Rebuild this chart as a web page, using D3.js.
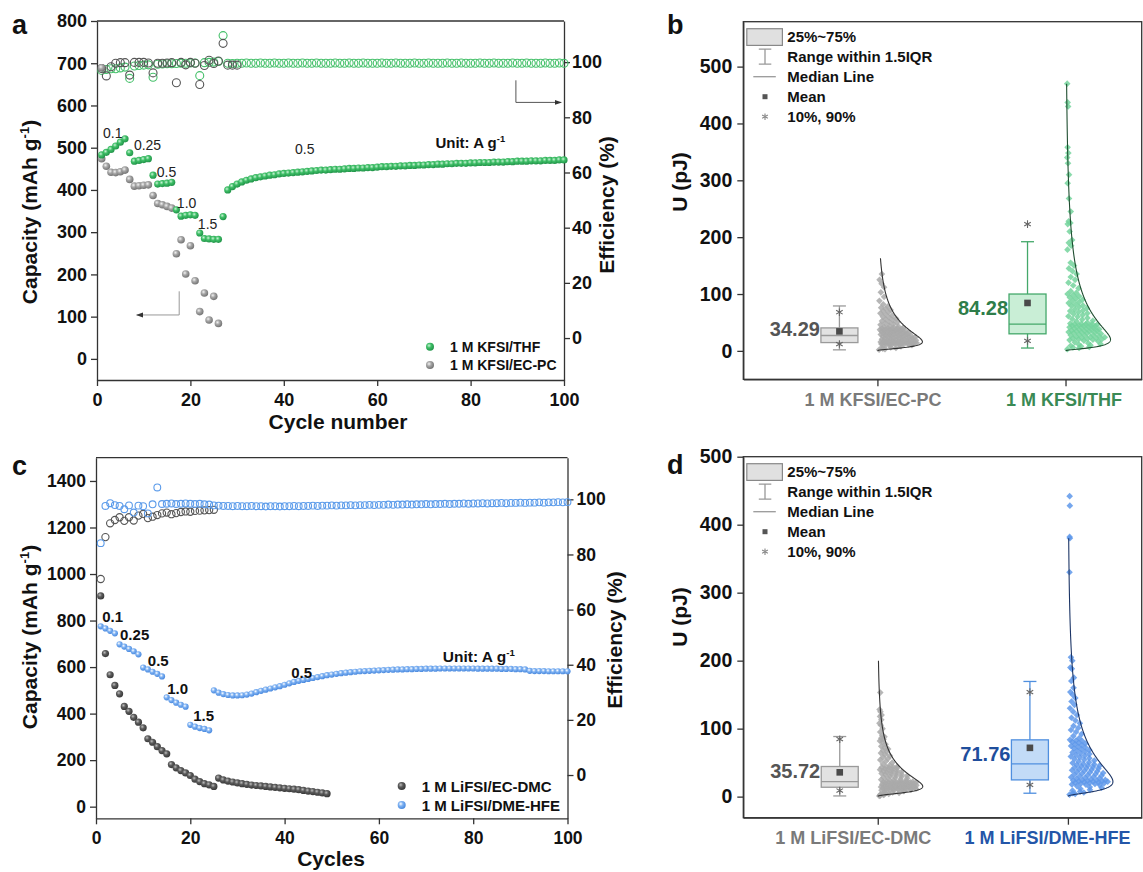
<!DOCTYPE html>
<html>
<head>
<meta charset="utf-8">
<script src="https://cdn.jsdelivr.net/npm/d3@7"></script>
<style>
  body { margin: 0; background: #fff; }
  svg text { font-family: "Liberation Sans", Arial, sans-serif; }
</style>
</head>
<body>
<svg id="fig" width="1143" height="872"></svg>
<script>
// ---------------- panel a : K cells ----------------
const cyclesA = d3.range(1, 101)
// 1 M KFSI/THF capacity, cycles 1-100
const thfCap = [483, 489, 496, 504, 513, 521, 488, 468, 470, 472, 474, 435, 414, 415, 416, 418,
  353, 338, 340, 341, 340, 298, 285, 284, 283, 283, 337,
  400, 408, 414, 419, 423, 426, 429, 431, 433, 435, 436, 438, 439, 440, 441, 442, 443, 444, 445, 446,
  447, 447, 448, 449, 449, 450, 451, 451, 452, 452, 453, 453, 454, 455, 455, 456, 456, 457, 457, 458,
  458, 459, 459, 460, 460, 461, 461, 462, 462, 463, 463, 463, 464, 464, 465, 465, 465, 466, 466, 466,
  467, 467, 468, 468, 468, 469, 469, 469, 470, 470, 470, 471, 471]
const thfEff = [97.0, 97.3, 97.6, 97.6, 97.9, 98.2, 94.1, 98.6, 98.8, 98.9, 99.0, 94.5, 99.2, 99.3, 99.4, 99.4,
  99.5, 99.6, 99.6, 99.7, 99.7, 95.1, 99.8, 99.9, 100.0, 100.2, 109.6,
  99.6, 99.5, 99.6, 99.6, 99.7, 99.6, 99.6, 99.7, 99.6, 99.6,
  99.7, 99.6, 99.6, 99.7, 99.6, 99.6, 99.7, 99.6, 99.6, 99.7,
  99.6, 99.6, 99.6, 99.7, 99.6, 99.6, 99.7, 99.6, 99.6, 99.7,
  99.6, 99.6, 99.6, 99.7, 99.6, 99.6, 99.7, 99.6, 99.6, 99.6,
  99.7, 99.6, 99.6, 99.7, 99.6, 99.6, 99.6, 99.7, 99.6, 99.6,
  99.7, 99.6, 99.6, 99.6, 99.7, 99.6, 99.6, 99.7, 99.6, 99.6,
  99.6, 99.7, 99.6, 99.6, 99.7, 99.6, 99.6, 99.6, 99.7, 99.6,
  99.6, 99.7, 99.6]
// 1 M KFSI/EC-PC, cycles 1-26 (capacity) and 1-30 (efficiency)
const ecpcCap = [474, 456, 442, 441, 443, 447, 425, 409, 410, 411, 412, 387, 368, 365, 361, 357,
  249, 282, 201, 268, 185, 112, 156, 92, 148, 84]
const ecpcFirstCap = 689
const ecpcEff = [97.7, 95.0, 98.3, 99.6, 99.8, 99.8, 95.3, 99.9, 99.9, 99.9, 99.7, 96.1, 99.6, 99.6, 99.7,
  99.8, 92.5, 99.9, 99.0, 99.9, 99.6, 91.9, 98.8, 100.7, 99.5, 100.4, 106.8, 98.9, 98.9, 98.9]

// ---------------- panel c : Li cells ----------------
const cyclesC = d3.range(1, 101)
// 1 M LiFSI/DME-HFE capacity, cycles 1-100
const hfeCap = [775, 766, 756, 745, 698, 688, 678, 668, 655, 598, 590, 580, 571, 560,
  470, 458, 447, 438, 430, 352, 344, 338, 334, 328,
  500, 490, 484, 480, 478, 478, 479, 482, 486, 492, 498, 503, 508, 513, 518, 524, 530, 536, 541, 545,
  549, 553, 557, 561, 565, 568, 571, 574, 576, 578, 580, 582, 583, 584, 585, 586, 587, 588, 589, 590,
  590, 591, 591, 592, 592, 593, 593, 593, 594, 594, 594, 594, 594, 594, 594, 594, 593, 593, 593, 593,
  593, 592, 592, 592, 591, 591, 590, 584, 583, 583, 583, 582, 582, 582, 582, 582]
const hfeEff = [84.1, 97.6, 98.6, 97.9, 97.6, 96.4, 97.8, 95.2, 97.7, 97.5, 94.9, 98.2, 104.3, 98.3,
  98.4, 98.5, 98.3, 98.4, 98.5, 98.4, 98.3, 98.4, 98.2, 98.1, 97.8, 97.7, 97.6, 97.6, 97.5, 97.6,
  97.5, 97.5, 97.6, 97.5, 97.5, 97.4, 97.5, 97.5, 97.4, 97.5, 97.5, 97.6, 97.5, 97.6, 97.6, 97.7,
  97.6, 97.7, 97.7, 97.8, 97.7, 97.8, 97.8, 97.9, 97.8, 97.9, 97.9, 98.0, 97.9, 98.0, 98.0, 98.1,
  98.0, 98.1, 98.1, 98.2, 98.1, 98.2, 98.2, 98.3, 98.2, 98.3, 98.3, 98.4, 98.3, 98.4, 98.4, 98.5,
  98.4, 98.5, 98.5, 98.6, 98.5, 98.6, 98.6, 98.7, 98.6, 98.7, 98.7, 98.8, 98.7, 98.8, 98.8, 98.9,
  98.8, 98.9, 98.9, 99.0, 98.9, 99.0]
// 1 M LiFSI/EC-DMC, capacity cycles 1-49, efficiency cycles 1-25
const dmcCap = [906, 658, 567, 521, 485, 431, 410, 384, 363, 339, 292, 277, 258, 241, 227,
  181, 167, 155, 145, 134, 118, 108, 99, 94, 87,
  123, 115, 110, 106, 102, 99, 96, 93, 91, 89, 87, 85, 83, 81, 79, 77, 75, 73, 70, 67, 65, 62, 59, 56]
const dmcEff = [71.1, 86.3, 91.3, 92.5, 93.5, 92.2, 93.5, 92.3, 94.1, 94.7, 93.2, 93.7, 94.3, 94.9,
  95.2, 94.6, 95.0, 95.4, 95.6, 95.5, 95.8, 95.9, 96.0, 96.1, 96.2]

// ---------------- panels b, d : U (pJ) distributions ----------------
const categoriesB = ['1 M KFSI/EC-PC', '1 M KFSI/THF']
const categoriesD = ['1 M LiFSI/EC-DMC', '1 M LiFSI/DME-HFE']
// box stats: [low whisker, q1, median, q3, high whisker, mean, p10, p90]
const ecpcBox = [1.8, 14.6, 27, 40.4, 79, 34.29, 12, 68]
const thfBox = [5, 30, 47, 100, 192, 84.28, 17.6, 223]
const dmcBox = [1, 13.8, 22, 44.3, 88.4, 35.72, 9, 84.5]
const hfeBox = [5, 24.6, 48.2, 83.5, 169.4, 71.76, 17.2, 153.8]
// distribution curves: mode, log-sigma, top value
const curveB = [[16, 1.0, 163], [20, 1.16, 470]]
const curveD = [[15, 0.9, 200], [22, 1.0, 380]]

const ecpcU = [2, 3, 4, 5, 6, 7, 8, 9, 10, 10.5, 11, 11.5, 12,
  12.2, 12.4, 12.6, 12.8, 13, 13.2, 13.4, 13.6, 13.8, 14, 14.1, 14.2, 14.3, 14.4, 14.5, 14.6, 14.6, 14.7, 14.8, 15,
  15.5, 15.8, 16, 16.5, 16.8, 17, 17.5, 17.8, 18, 18.5, 18.8, 19, 19.5, 20, 20.5, 20.8, 21, 21.5, 22, 22.5, 22.8,
  23, 23.5, 24, 24.5, 25, 25.3, 25.6, 26, 26.3, 26.6, 27,
  27.5, 28, 28.3, 28.9, 29.2, 29.7, 30, 30.5, 30.8, 31.3, 31.6, 32, 32.5, 32.8, 33.3, 33.6, 34, 34.5, 34.8,
  35.3, 35.6, 36, 36.5, 36.8, 37.3, 37.6, 38, 38.5, 38.8, 39.3, 39.6, 40, 40.4,
  41, 42, 43, 44.5, 46, 47, 48.5, 50, 51, 52.5, 54, 55.5, 57, 58.5, 60, 62, 64, 66, 68,
  70, 72, 74, 76, 78, 82, 88, 95, 103, 112, 118, 125, 135]
const thfU = [3, 5, 6, 7, 8, 9, 10, 11, 12, 13.5, 15, 17,
  18, 19, 19.5, 20, 20.5, 21, 22, 22.5, 23, 24, 24.5, 25, 26, 27, 27.5, 28, 29, 30,
  31, 31.5, 32, 32.5, 33, 34, 34.5, 35, 35.5, 36, 37, 37.5, 38, 39, 39.5, 40, 41, 41.5, 42, 42.5,
  43, 44, 44.5, 45, 45.5, 46, 46.5, 47, 47, 47.5,
  48, 50, 52, 53, 55, 56, 58, 60, 61, 63, 65, 66, 68, 70, 71, 73, 75, 77, 79, 80,
  82, 84, 86, 88, 90, 92, 94, 96, 98, 100,
  102, 105, 110, 115, 120, 125, 130, 135, 140, 145, 150, 155, 178, 185, 190, 195, 210, 223,
  225, 228, 245, 268, 295, 310, 330, 340, 348, 358, 430, 437, 470]
const dmcU = [1, 1.5, 2, 2.5, 3, 3.5, 4, 5, 5.5, 6, 7, 8, 9,
  9.3, 9.6, 9.9, 10.2, 10.5, 10.8, 11, 11.3, 11.6, 11.9, 12.1, 12.3, 12.5, 12.7, 12.9, 13.1, 13.3, 13.5, 13.7, 13.8,
  14, 14.3, 14.6, 14.9, 15.2, 15.5, 15.8, 16, 16.3, 16.6, 16.9, 17.2, 17.5, 17.8, 18.1, 18.4,
  18.7, 19, 19.3, 19.5, 19.8, 20, 20.3, 20.5, 20.8, 21, 21.2, 21.4, 21.6, 21.8, 22, 22,
  22.8, 23.5, 24.2, 25, 25.7, 26.4, 27, 27.8, 28.5, 29.2, 30, 30.6, 31.3, 32, 32.7, 33.4, 34,
  34.8, 35.5, 36.2, 37, 37.6, 38.3, 39, 39.7, 40.4, 41, 41.8, 42.5, 43, 43.6, 44, 44.3,
  46, 48, 50, 52, 54, 56, 58, 60, 62, 64, 66, 68, 70, 72, 74, 77, 80, 82, 84.5,
  86, 88, 90, 95, 100, 105, 108, 113, 118, 120, 125, 128, 153]
const hfeU = [3, 4, 5, 6, 7.5, 9, 10, 11.5, 13, 14, 15.5, 17,
  17.5, 18, 18.5, 19, 19.5, 20, 20.5, 21, 21.5, 22, 22.3, 22.6, 23, 23.3, 23.6, 24, 24.3, 24.6,
  25.5, 26.3, 27, 27.8, 28.5, 29.3, 30, 30.8, 31.6, 32.4, 33.2, 34, 34.8, 35.6, 36.4, 37.2, 38,
  38.8, 39.6, 40.4, 41.2, 42, 42.8, 43.6, 44.4, 45.2, 46, 46.8, 47.5, 48.2,
  49.5, 50.6, 51.8, 53, 54.2, 55.4, 56.6, 57.8, 59, 60.2, 61.4, 62.6, 63.8, 65, 66.2, 67.4, 68.6,
  69.8, 71, 72.2, 73.4, 74.6, 75.8, 77, 78.2, 79.4, 80.6, 81.8, 82.6, 83.5,
  86, 89, 92, 95, 98, 101, 104, 108, 112, 116, 120, 125, 130, 135, 140, 145, 150, 153.8,
  160, 170, 175, 188, 190, 200, 205, 330, 380, 382, 428, 442]

const svg = d3.select('#fig')
const defs = svg.append('defs')
const FONT = '"Liberation Sans", Arial, sans-serif'

// shaded balls for the filled markers
function ballGradient(id, light, mid, dark) {
  const g = defs.append('radialGradient').attr('id', id)
    .attr('cx', '38%').attr('cy', '36%').attr('r', '62%')
  g.append('stop').attr('offset', '0%').attr('stop-color', light)
  g.append('stop').attr('offset', '45%').attr('stop-color', mid)
  g.append('stop').attr('offset', '100%').attr('stop-color', dark)
}
ballGradient('gGreen', '#c9f2d6', '#3fbf67', '#23974b')
ballGradient('gGray', '#f2f2f2', '#a6a6a6', '#777777')
ballGradient('gDark', '#bdbdbd', '#5c5c5c', '#3a3a3a')
ballGradient('gBlue', '#ffffff', '#7fb2f2', '#4d8ce0')

defs.append('marker').attr('id', 'arrow').attr('viewBox', '0 0 10 10')
  .attr('refX', 9).attr('refY', 5).attr('markerWidth', 7).attr('markerHeight', 7)
  .attr('orient', 'auto-start-reverse')
  .append('path').attr('d', 'M0,1.5 L10,5 L0,8.5 Z').attr('fill', '#333')

function styleAxis(g, size) {
  g.attr('font-family', FONT)
  g.select('.domain').attr('stroke', '#333').attr('stroke-width', 1.3)
  g.selectAll('.tick line').attr('stroke', '#333').attr('stroke-width', 1.3)
  g.selectAll('.tick text').attr('font-size', size).attr('font-weight', 'bold').attr('fill', '#111')
}

function rings(g, xs, ys, cyc, vals, r, color) {
  g.append('g').selectAll('circle').data(vals).join('circle')
    .attr('cx', (d, i) => xs(cyc[i])).attr('cy', d => ys(d)).attr('r', r)
    .attr('fill', 'none').attr('stroke', color).attr('stroke-width', 1.1)
}
function balls(g, xs, ys, cyc, vals, r, grad) {
  g.append('g').selectAll('circle').data(vals).join('circle')
    .attr('cx', (d, i) => xs(cyc[i])).attr('cy', d => ys(d)).attr('r', r)
    .attr('fill', 'url(#' + grad + ')')
}
function label(x, y, txt, size, weight, opts) {
  const t = svg.append('text').attr('x', x).attr('y', y).attr('font-size', size)
    .attr('font-weight', weight || 'bold').attr('fill', (opts && opts.fill) || '#111')
    .attr('text-anchor', (opts && opts.anchor) || 'start').text(txt)
  return t
}
function vLabel(x, y, txt, size) {
  svg.append('text').attr('transform', `translate(${x},${y}) rotate(-90)`).attr('text-anchor', 'middle')
    .attr('font-size', size).attr('font-weight', 'bold').attr('fill', '#111').text(txt)
}
function supText(x, y, main, sup, tail, size, rotate) {
  const t = svg.append('text').attr('font-size', size).attr('font-weight', 'bold').attr('fill', '#111')
    .attr('text-anchor', 'middle')
  if (rotate) t.attr('transform', 'translate(' + x + ',' + y + ') rotate(-90)')
  else t.attr('x', x).attr('y', y)
  t.append('tspan').text(main)
  t.append('tspan').attr('dy', -size * 0.38).attr('font-size', size * 0.62).text(sup)
  if (tail) t.append('tspan').attr('dy', size * 0.38).text(tail)
  return t
}

// ================= panel a =================
{
  const L = 97, R = 564, T = 21, B = 380
  const x = d3.scaleLinear().domain([0, 100]).range([L, R])
  const y = d3.scaleLinear().domain([-50, 800]).range([B, T])
  const y2 = d3.scaleLinear().domain([-15.2, 114.9]).range([B, T])
  const g = svg.append('g')

  g.append('line').attr('x1', L).attr('x2', R).attr('y1', T).attr('y2', T).attr('stroke', '#333').attr('stroke-width', 1.3)
  styleAxis(g.append('g').attr('transform', `translate(${L},0)`)
    .call(d3.axisLeft(y).tickValues(d3.range(0, 801, 100)).tickSize(6).tickPadding(4).tickSizeOuter(0)), 18)
  styleAxis(g.append('g').attr('transform', `translate(${R},0)`)
    .call(d3.axisRight(y2).tickValues(d3.range(0, 101, 20)).tickSize(6).tickPadding(2).tickSizeOuter(0)), 18)
  styleAxis(g.append('g').attr('transform', `translate(0,${B})`)
    .call(d3.axisBottom(x).tickValues(d3.range(0, 101, 20)).tickSize(6).tickPadding(7).tickSizeOuter(0)), 18)

  rings(g, x, y2, cyclesA, thfEff, 4, '#45c06a')
  rings(g, x, y2, cyclesA, ecpcEff, 4, '#555')
  g.append('circle').attr('cx', x(1)).attr('cy', y(ecpcFirstCap)).attr('r', 3.8).attr('fill', 'url(#gGray)')
  balls(g, x, y, cyclesA, ecpcCap, 3.8, 'gGray')
  balls(g, x, y, cyclesA, thfCap, 3.6, 'gGreen')

  // arrows
  g.append('path').attr('d', `M${x(17.6)},${y(160)} V${y(104)} H${x(8.5)}`)
    .attr('fill', 'none').attr('stroke', '#999').attr('stroke-width', 1).attr('marker-end', 'url(#arrow)')
  g.append('path').attr('d', `M${x(89.7)},${y2(93.4)} V${y2(85.4)} H${x(99.4)}`)
    .attr('fill', 'none').attr('stroke', '#555').attr('stroke-width', 1).attr('marker-end', 'url(#arrow)')

  const rates = [['0.1', 1.3, 523], ['0.25', 7.9, 494], ['0.5', 12.8, 430], ['1.0', 17.1, 357], ['1.5', 21.6, 308], ['0.5', 42.4, 485]]
  rates.forEach(r => label(x(r[1]), y(r[2]), r[0], 14, 'normal', { fill: '#222' }))
  supText(x(72) + 37, y(499), 'Unit: A g', '-1', '', 15, false)

  // legend
  g.append('circle').attr('cx', 430).attr('cy', 346.7).attr('r', 4).attr('fill', 'url(#gGreen)')
  g.append('circle').attr('cx', 430).attr('cy', 365).attr('r', 4).attr('fill', 'url(#gGray)')
  label(450, 351.5, '1 M KFSI/THF', 14)
  label(450, 370, '1 M KFSI/EC-PC', 14)

  supText(37, 212, 'Capacity (mAh g', '-1', ')', 21, true)
  vLabel(614, 205, 'Efficiency (%)', 21)
  label(338, 429, 'Cycle number', 21, 'bold', { anchor: 'middle' })
  label(12, 34, 'a', 27)
}

// ================= panel c =================
{
  const L = 96, R = 567.5, T = 457.7, B = 818.3
  const x = d3.scaleLinear().domain([0, 100]).range([L, R])
  const y = d3.scaleLinear().domain([-50, 1500]).range([B, T])
  const y2 = d3.scaleLinear().domain([-15.7, 115.1]).range([B, T])
  const g = svg.append('g')

  g.append('line').attr('x1', L).attr('x2', R).attr('y1', T).attr('y2', T).attr('stroke', '#333').attr('stroke-width', 1.3)
  styleAxis(g.append('g').attr('transform', `translate(${L},0)`)
    .call(d3.axisLeft(y).tickValues(d3.range(0, 1401, 200)).tickFormat(d3.format('d')).tickSize(6).tickPadding(4).tickSizeOuter(0)), 17.5)
  styleAxis(g.append('g').attr('transform', `translate(${R},0)`)
    .call(d3.axisRight(y2).tickValues(d3.range(0, 101, 20)).tickSize(6).tickPadding(3).tickSizeOuter(0)), 17.5)
  styleAxis(g.append('g').attr('transform', `translate(0,${B})`)
    .call(d3.axisBottom(x).tickValues(d3.range(0, 101, 20)).tickSize(6).tickPadding(7).tickSizeOuter(0)), 17.5)

  rings(g, x, y2, cyclesC, dmcEff, 3.6, '#555')
  rings(g, x, y2, cyclesC, hfeEff, 3.4, '#5b9bea')
  balls(g, x, y, cyclesC, dmcCap, 3.6, 'gDark')
  balls(g, x, y, cyclesC, hfeCap, 3.1, 'gBlue')

  const rates = [['0.1', 1.3, 794], ['0.25', 5.1, 716], ['0.5', 11, 605], ['1.0', 15.1, 484], ['1.5', 20.6, 368], ['0.5', 41.4, 553]]
  rates.forEach(r => label(x(r[1]), y(r[2]), r[0], 15, 'bold'))
  supText(x(72.7) + 40, y(622), 'Unit: A g', '-1', '', 15.5, false)

  g.append('circle').attr('cx', 401.7).attr('cy', 786).attr('r', 4).attr('fill', 'url(#gDark)')
  g.append('circle').attr('cx', 401.7).attr('cy', 805).attr('r', 4).attr('fill', 'url(#gBlue)')
  label(421.7, 791.5, '1 M LiFSI/EC-DMC', 15)
  label(421.7, 810.5, '1 M LiFSI/DME-HFE', 15)

  supText(37, 637, 'Capacity (mAh g', '-1', ')', 21, true)
  vLabel(622, 640, 'Efficiency (%)', 21)
  label(331, 866, 'Cycles', 21, 'bold', { anchor: 'middle' })
  label(12, 475, 'c', 27)
}

// ================= panels b, d =================
function distPanel(o) {
  const g = svg.append('g')
  const x = d3.scaleLinear().domain(o.xDomain).range([o.L, o.R])
  const y = d3.scaleLinear().domain(o.yDomain).range([o.B, o.T])
  g.append('rect').attr('x', o.L).attr('y', o.T).attr('width', o.R - o.L).attr('height', o.B - o.T)
    .attr('fill', 'none').attr('stroke', '#333').attr('stroke-width', 1.3)
  styleAxis(g.append('g').attr('transform', `translate(${o.L},0)`)
    .call(d3.axisLeft(y).tickValues(d3.range(0, 501, 100)).tickSize(6).tickPadding(5).tickSizeOuter(0)), 19.5)
  const xa = g.append('g').attr('transform', `translate(0,${o.B})`)
    .call(d3.axisBottom(x).tickValues([1, 2]).tickFormat((d, i) => o.cats[i]).tickSize(7).tickPadding(7).tickSizeOuter(0))
  styleAxis(xa, 18)
  xa.selectAll('.tick text').attr('fill', (d, i) => o.catColors[i]).attr('dx', (d, i) => o.catShift[i])

  o.groups.forEach((grp, k) => {
    const cx = x(k + 1)
    const [mode, sig, top] = o.curves[k]
    const ratio = v => Math.exp(-Math.pow(Math.log(v / mode), 2) / (2 * sig * sig))
    // scatter of the data along the distribution
    g.append('g').selectAll('path').data(grp.values).join('path')
      .attr('d', d3.symbol(d3.symbolSquare, 22))
      .attr('transform', (v, i) => {
        const f = ((i * 0.6180339887) % 1) * 0.9 + 0.03
        return `translate(${cx + 1.5 + f * 42 * ratio(v)},${y(v)}) rotate(45)`
      })
      .attr('fill', grp.dot).attr('fill-opacity', 0.85)
    // fitted curve
    const vs = d3.range(0.4, top, 0.5).concat([top])
    g.append('path').datum(vs)
      .attr('d', d3.line().x(v => cx + 45 * ratio(v)).y(v => y(v)))
      .attr('fill', 'none').attr('stroke', grp.curve).attr('stroke-width', 1.1)

    // box
    const [lo, q1, med, q3, hi, mean, p10, p90] = grp.box
    const bx = cx - 38, bw = 37
    g.append('line').attr('x1', bx).attr('x2', bx).attr('y1', y(lo)).attr('y2', y(hi)).attr('stroke', grp.stroke).attr('stroke-width', 1.3)
    ;[lo, hi].forEach(v => g.append('line').attr('x1', bx - 6.5).attr('x2', bx + 6.5).attr('y1', y(v)).attr('y2', y(v))
      .attr('stroke', grp.stroke).attr('stroke-width', 1.3))
    g.append('rect').attr('x', bx - bw / 2).attr('y', y(q3)).attr('width', bw).attr('height', y(q1) - y(q3))
      .attr('fill', grp.fill).attr('stroke', grp.stroke).attr('stroke-width', 1.3)
    g.append('line').attr('x1', bx - bw / 2).attr('x2', bx + bw / 2).attr('y1', y(med)).attr('y2', y(med))
      .attr('stroke', grp.stroke).attr('stroke-width', 1.3)
    g.append('rect').attr('x', bx - 3.3).attr('y', y(mean) - 3.3).attr('width', 6.6).attr('height', 6.6).attr('fill', '#4a4a4a')
    ;[p10, p90].forEach(v => g.append('path').attr('d', d3.symbol(d3.symbolAsterisk, 40))
      .attr('transform', `translate(${bx},${y(v)})`).attr('stroke', '#666').attr('stroke-width', 1.1).attr('fill', 'none'))
    label(bx - bw / 2 - 1, y((q1 + q3) / 2) + 1, mean.toFixed(2), 20, 'bold', { anchor: 'end', fill: grp.labelColor })
  })

  // legend
  const lx = o.L, ly = o.T
  g.append('rect').attr('x', lx + 3.5).attr('y', ly + 7).attr('width', 35.6).attr('height', 16.7)
    .attr('fill', '#e0e0e0').attr('stroke', '#888').attr('stroke-width', 1.2)
  g.append('path').attr('d', `M${lx + 15.5},${ly + 27.5}H${lx + 28}M${lx + 21.7},${ly + 27.5}V${ly + 42.5}M${lx + 15.5},${ly + 42.5}H${lx + 28}`)
    .attr('stroke', '#999').attr('stroke-width', 1.3).attr('fill', 'none')
  g.append('line').attr('x1', lx + 10).attr('x2', lx + 32.5).attr('y1', ly + 55).attr('y2', ly + 55)
    .attr('stroke', '#999').attr('stroke-width', 1.3)
  g.append('rect').attr('x', lx + 19.2).attr('y', ly + 72.5).attr('width', 5).attr('height', 5).attr('fill', '#555')
  g.append('path').attr('d', d3.symbol(d3.symbolAsterisk, 30)).attr('transform', `translate(${lx + 21.7},${ly + 95})`)
    .attr('stroke', '#888').attr('stroke-width', 1.1).attr('fill', 'none')
  const items = ['25%~75%', 'Range within 1.5IQR', 'Median Line', 'Mean', '10%, 90%']
  items.forEach((t, i) => label(lx + 44, ly + 20.3 + i * 20, t, 15, 'bold'))

  vLabel(687, o.yLab, 'U (pJ)', 21)
  label(o.letterX, o.letterY, o.letter, 27)
}

distPanel({
  L: 743.3, R: 1141.7, T: 21.7, B: 379.3, xDomain: [0.287, 2.405], yDomain: [-50, 579],
  cats: categoriesB, catColors: ['#7a7a7a', '#3a8a55'], catShift: [-5, -2], curves: curveB, yLab: 182,
  letter: 'b', letterX: 667, letterY: 34,
  groups: [
    { values: ecpcU, box: ecpcBox, dot: '#a9a9a9', curve: '#333', fill: '#e2e2e2', stroke: '#9a9a9a', labelColor: '#555' },
    { values: thfU, box: thfBox, dot: '#74d49c', curve: '#1e4d2f', fill: '#c9eed6', stroke: '#44a86a', labelColor: '#2e7d4a' }
  ]
})
distPanel({
  L: 743.3, R: 1141.7, T: 456.7, B: 817.7, xDomain: [0.293, 2.388], yDomain: [-31, 500],
  cats: categoriesD, catColors: ['#7a7a7a', '#2456a8'], catShift: [-25, -21], curves: curveD, yLab: 617,
  letter: 'd', letterX: 667, letterY: 474,
  groups: [
    { values: dmcU, box: dmcBox, dot: '#a9a9a9', curve: '#333', fill: '#e2e2e2', stroke: '#9a9a9a', labelColor: '#555' },
    { values: hfeU, box: hfeBox, dot: '#5e98ea', curve: '#1c3566', fill: '#c2dbf7', stroke: '#4f8fdf', labelColor: '#1f4e9c' }
  ]
})
</script>
</body>
</html>
